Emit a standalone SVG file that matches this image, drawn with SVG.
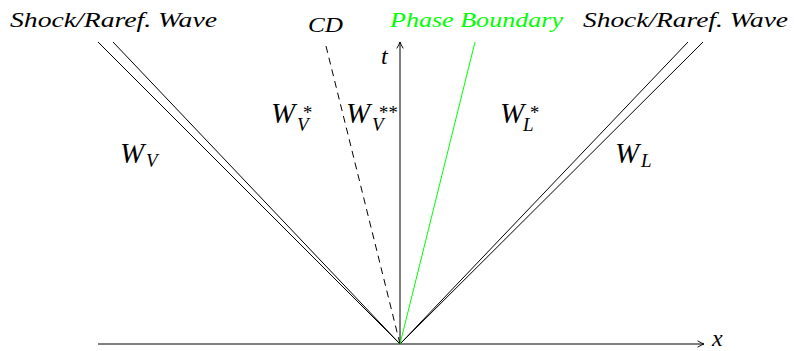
<svg xmlns="http://www.w3.org/2000/svg" width="794" height="351" viewBox="0 0 794 351">
<defs>
<marker id="arr" viewBox="0 0 10 10" refX="9" refY="5" markerWidth="8" markerHeight="8" markerUnits="userSpaceOnUse" orient="auto">
<path d="M1,1 Q6,4 9,5 Q6,6 1,9" fill="none" stroke="#000" stroke-width="1.2"/>
</marker>
<style>
.ln{stroke:#000;stroke-width:1;fill:none}
text{font-family:"Liberation Serif",serif;font-style:italic;fill:#000}
.sm{font-size:21px}
.big{font-size:29px}
.sub{font-size:19px}
.ax{font-size:24px}
.green{fill:#00ff00}
</style>
</defs>
<rect width="794" height="351" fill="#fff"/>
<g id="connectors">
<line class="ln" x1="98" y1="344" x2="704" y2="344" marker-end="url(#arr)"/>
<line class="ln" x1="400" y1="344" x2="400" y2="42" marker-end="url(#arr)"/>
<line class="ln" x1="400" y1="344" x2="98" y2="42"/>
<line class="ln" x1="400" y1="344" x2="113" y2="42"/>
<line class="ln" x1="400" y1="344" x2="688" y2="42"/>
<line class="ln" x1="400" y1="344" x2="703" y2="42"/>
<line class="ln" x1="400" y1="344" x2="325" y2="42" stroke-dasharray="7,5"/>
<line x1="400" y1="344" x2="475" y2="42" stroke="#00ff00" stroke-width="1"/>
</g>
<g id="label-left-wave"><text class="sm" x="10" y="27" textLength="207" lengthAdjust="spacingAndGlyphs">Shock/Raref.  Wave</text></g>
<g id="label-cd"><text class="sm" x="308" y="32" textLength="35" lengthAdjust="spacingAndGlyphs">CD</text></g>
<g id="label-phase"><text class="sm green" x="390" y="27" textLength="173" lengthAdjust="spacingAndGlyphs">Phase Boundary</text></g>
<g id="label-right-wave"><text class="sm" x="583" y="27" textLength="205" lengthAdjust="spacingAndGlyphs">Shock/Raref.  Wave</text></g>
<g id="label-t"><text class="ax" x="381" y="64">t</text></g>
<g id="label-x"><text class="ax" x="712" y="346">x</text></g>
<g id="WV">
<text class="big" x="120" y="163">W</text>
<text class="sub" x="146" y="167">V</text>
</g>
<g id="WVs">
<text class="big" x="271" y="123">W</text>
<text class="sub" x="302" y="119">*</text>
<text class="sub" x="297" y="131">V</text>
</g>
<g id="WVss">
<text class="big" x="346" y="123">W</text>
<text class="sub" x="378" y="119">**</text>
<text class="sub" x="372" y="131">V</text>
</g>
<g id="WLs">
<text class="big" x="500" y="123">W</text>
<text class="sub" x="529" y="119">*</text>
<text class="sub" x="523" y="131">L</text>
</g>
<g id="WL">
<text class="big" x="615" y="163">W</text>
<text class="sub" x="641" y="167">L</text>
</g>
</svg>
